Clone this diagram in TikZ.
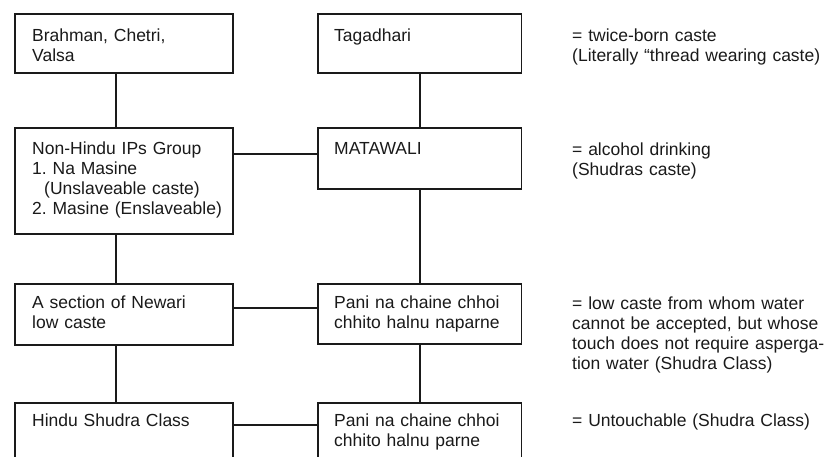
\documentclass[tikz,border=0pt]{standalone}
\usepackage{fontspec}
\setmainfont{Liberation Sans}
\usetikzlibrary{positioning}
\definecolor{ink}{HTML}{1A1A1A}
\begin{document}
\frenchspacing
\begin{tikzpicture}[x=1pt,y=-1pt,
  box/.style={draw=ink, line width=1.8pt, rectangle, anchor=north west, inner sep=0pt, minimum width=#1},
  box/.default=218pt,
  txt/.style={anchor=base west, inner sep=0pt, text=ink, align=left, text width=260pt,
    font=\fontsize{17.5}{20}\selectfont\frenchspacing},
  conn/.style={draw=ink, line width=1.8pt}]
\useasboundingbox (0,0) rectangle (826,456);
\clip (0,0) rectangle (826,456);
\fill[white] (0,0) rectangle (826,456);
% left column
\node[box, minimum height=59pt] (b1) at (14,13) {};
\node[box, minimum height=106pt] (b3) at (14,127) {};
\node[box, minimum height=61pt] (b5) at (14,283) {};
\node[box, minimum height=80pt] (b7) at (14,402) {};
% right column
\node[box=203.5pt, minimum height=59pt] (b2) at (317,13) {};
\node[box=203.5pt, minimum height=61pt] (b4) at (317,127) {};
\node[box=203.5pt, minimum height=60pt] (b6) at (317,283) {};
\node[box=203.5pt, minimum height=80pt] (b8) at (317,402) {};
% texts in boxes
\node[txt] (t1) at ([xshift=18pt,yshift=-28pt]b1.north west) {Brahman, Chetri,\\Valsa};
\node[txt] (t3) at ([xshift=18pt,yshift=-27pt]b3.north west) {Non-Hindu IPs Group\\1. Na Masine\\\hspace*{12pt}(Unslaveable caste)\\2. Masine (Enslaveable)};
\node[txt] (t5) at ([xshift=18pt,yshift=-25pt]b5.north west) {A section of Newari\\low caste};
\node[txt] (t7) at ([xshift=18pt,yshift=-24pt]b7.north west) {Hindu Shudra Class};
\node[txt] (t2) at ([xshift=17pt,yshift=-28pt]b2.north west) {Tagadhari};
\node[txt] (t4) at ([xshift=17pt,yshift=-27pt]b4.north west) {MATAWALI};
\node[txt] (t6) at ([xshift=17pt,yshift=-25pt]b6.north west) {Pani na chaine chhoi\\chhito halnu naparne};
\node[txt] (t8) at ([xshift=17pt,yshift=-24pt]b8.north west) {Pani na chaine chhoi\\chhito halnu parne};
% annotations
\node[txt] (a1) at (572,41) {= twice-born caste\\(Literally ``thread wearing caste)};
\node[txt] (a2) at (572,155) {= alcohol drinking\\(Shudras caste)};
\node[txt] (a3) at (572,309) {= low caste from whom water\\cannot be accepted, but whose\\touch does not require asperga-\\tion water (Shudra Class)};
\node[txt] (a4) at (572,426) {= Untouchable (Shudra Class)};
% vertical connectors
\draw[conn] ([xshift=102pt]b1.south west) -- ([xshift=102pt]b3.north west);
\draw[conn] ([xshift=102pt]b3.south west) -- ([xshift=102pt]b5.north west);
\draw[conn] ([xshift=102pt]b5.south west) -- ([xshift=102pt]b7.north west);
\draw[conn] ([xshift=103pt]b2.south west) -- ([xshift=103pt]b4.north west);
\draw[conn] ([xshift=103pt]b4.south west) -- ([xshift=103pt]b6.north west);
\draw[conn] ([xshift=103pt]b6.south west) -- ([xshift=103pt]b8.north west);
% horizontal connectors
\draw[conn] ([yshift=-27pt]b3.north east) -- ([yshift=-27pt]b4.north west);
\draw[conn] ([yshift=-25pt]b5.north east) -- ([yshift=-25pt]b6.north west);
\draw[conn] ([yshift=-23pt]b7.north east) -- ([yshift=-23pt]b8.north west);
\end{tikzpicture}
\end{document}
